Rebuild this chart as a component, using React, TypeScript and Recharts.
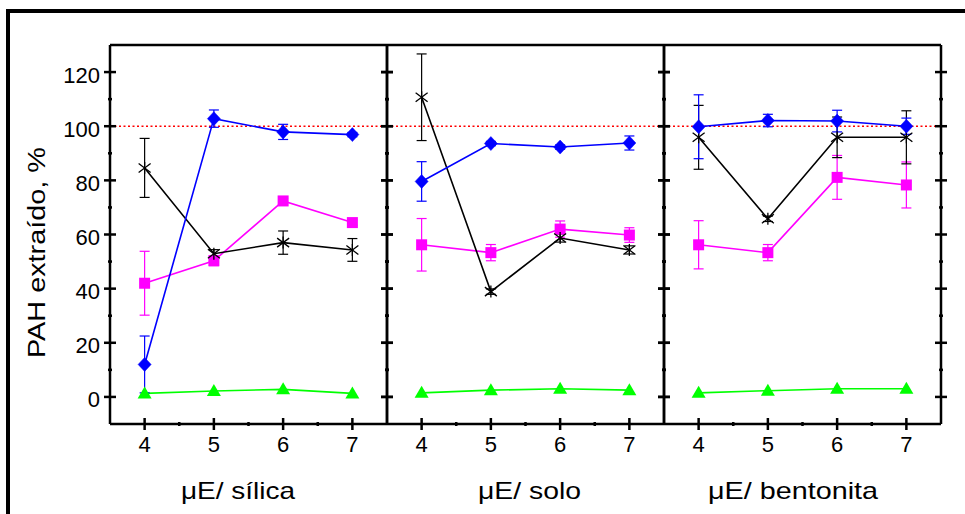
import React from 'react';
import { LineChart, Line, XAxis, YAxis, ErrorBar, ReferenceLine, Label } from 'recharts';

const xValues = [4, 5, 6, 7];
const xTicks = [4, 4.5, 5, 5.5, 6, 6.5, 7];
const yTicks = [0, 10, 20, 30, 40, 50, 60, 70, 80, 90, 100, 110, 120];

// panel 1 - sílica
const silicaDiamond = [12, 102.8, 97.9, 96.9];
const silicaDiamondErr = [10.5, 3.2, 2.8, 0.8];
const silicaSquare = [42, 50.3, 72.4, 64.4];
const silicaSquareErr = [11.8, 1.8, 1, 1];
const silicaStar = [84.6, 52.9, 57, 54.3];
const silicaStarErr = [10.9, 1.5, 4.3, 4.2];
const silicaTriangle = [1.3, 2.2, 2.8, 1.3];

// panel 2 - solo
const soloDiamond = [79.6, 93.6, 92.3, 93.8];
const soloDiamondErr = [7.3, 0.8, 0.8, 2.6];
const soloSquare = [56.2, 53.3, 62, 59.8];
const soloSquareErr = [9.7, 3, 3, 2.7];
const soloStar = [110.7, 38.9, 58.7, 54.3];
const soloStarErr = [16, 1, 1.5, 1.5];
const soloTriangle = [1.5, 2.5, 3, 2.5];

// panel 3 - bentonita
const bentDiamond = [99.8, 102.1, 101.9, 100];
const bentDiamondErr = [11.8, 2.3, 4, 3];
const bentSquare = [56.2, 53.3, 81.1, 78.3];
const bentSquareErr = [8.9, 3, 8.1, 8.5];
const bentStar = [95.9, 65.8, 95.9, 95.9];
const bentStarErr = [11.8, 1, 7.5, 9.8];
const bentTriangle = [1.5, 2.3, 3, 3];

const font = '"Liberation Sans", Arial, Helvetica, sans-serif';
const BLUE = '#0000FF';
const MAGENTA = '#FF00FF';
const GREEN = '#00FF00';

const buildRows = (d: number[], de: number[], s: number[], se: number[], st: number[], ste: number[], t: number[]) =>
  xValues.map((x, i) => ({
    x,
    diamond: d[i],
    diamondErr: de[i],
    square: s[i],
    squareErr: se[i],
    star: st[i],
    starErr: ste[i],
    triangle: t[i],
  }));

const panels = [
  {
    title: 'μE/ sílica',
    titleCenter: 128,
    titleLen: 114,
    rows: buildRows(silicaDiamond, silicaDiamondErr, silicaSquare, silicaSquareErr, silicaStar, silicaStarErr, silicaTriangle),
  },
  {
    title: 'μE/ solo',
    titleCenter: 142.5,
    titleLen: 103,
    rows: buildRows(soloDiamond, soloDiamondErr, soloSquare, soloSquareErr, soloStar, soloStarErr, soloTriangle),
  },
  {
    title: 'μE/ bentonita',
    titleCenter: 129,
    titleLen: 170,
    rows: buildRows(bentDiamond, bentDiamondErr, bentSquare, bentSquareErr, bentStar, bentStarErr, bentTriangle),
  },
];

const diamondDot = (p: any) => (
  <path
    key={`d-${p.index}`}
    d={`M${p.cx},${p.cy - 7}L${p.cx + 6.5},${p.cy}L${p.cx},${p.cy + 7}L${p.cx - 6.5},${p.cy}Z`}
    fill={BLUE}
    stroke={BLUE}
    strokeWidth={0.5}
  />
);

const squareDot = (p: any) => (
  <rect key={`s-${p.index}`} x={p.cx - 5.5} y={p.cy - 5.5} width={11} height={11} fill={MAGENTA} />
);

const triangleDot = (p: any) => (
  <path
    key={`t-${p.index}`}
    d={`M${p.cx},${p.cy - 7}L${p.cx + 7},${p.cy + 5}L${p.cx - 7},${p.cy + 5}Z`}
    fill={GREEN}
  />
);

const starDot = (p: any) => (
  <g key={`a-${p.index}`} stroke="#000" strokeWidth={1.3}>
    <line x1={p.cx} y1={p.cy - 6} x2={p.cx} y2={p.cy + 6} />
    <line x1={p.cx - 6} y1={p.cy - 4.5} x2={p.cx + 6} y2={p.cy + 4.5} />
    <line x1={p.cx - 6} y1={p.cy + 4.5} x2={p.cx + 6} y2={p.cy - 4.5} />
  </g>
);

const makeYTick = (showLabel: boolean) => (props: any) => {
  const { x, y, payload } = props;
  const major = payload.value % 20 === 0;
  const len = major ? 6 : 2;
  return (
    <g>
      <line x1={x - len} x2={x + len} y1={y} y2={y} stroke="#000" strokeWidth={2.5} />
      {showLabel && major && (
        <text x={x - 10} y={y + 10.5} textAnchor="end" fontSize={22} fontFamily={font} fill="#000">
          {payload.value}
        </text>
      )}
    </g>
  );
};

const makeXTick = (showLabel: boolean) => (props: any) => {
  const { x, y, payload } = props;
  const major = Number.isInteger(payload.value);
  const len = major ? 6 : 2;
  return (
    <g>
      <line x1={x} x2={x} y1={y - len} y2={y + len} stroke="#000" strokeWidth={2.5} />
      {showLabel && major && (
        <text x={x} y={y + 28} textAnchor="middle" fontSize={22} fontFamily={font} fill="#000">
          {payload.value}
        </text>
      )}
    </g>
  );
};

const axisLine = { stroke: '#000', strokeWidth: 2.5 };

function Panel({ index, left }: { index: number; left: number }) {
  const panel = panels[index];
  const first = index === 0;
  const width = first ? 397 : 297;
  return (
    <div style={{ position: 'absolute', left, top: 0 }}>
      <LineChart
        width={width}
        height={514}
        data={panel.rows}
        margin={{ top: 40, right: 0, bottom: 10, left: first ? 10 : 0 }}
      >
        <XAxis
          dataKey="x"
          type="number"
          domain={[3.5, 7.5]}
          ticks={xTicks}
          interval={0}
          height={80}
          tickSize={0}
          tickMargin={0}
          tickLine={false}
          axisLine={axisLine}
          tick={makeXTick(true)}
          allowDataOverflow
        >
          <Label
            content={(p: any) => {
              const vb = p.viewBox;
              const start = vb.x + panel.titleCenter - panel.titleLen / 2;
              return (
                <text
                  x={start}
                  y={vb.y + 75}
                  fontSize={24}
                  fontFamily={font}
                  fill="#000"
                  textLength={panel.titleLen}
                  lengthAdjust="spacingAndGlyphs"
                >
                  {panel.title}
                </text>
              );
            }}
          />
        </XAxis>
        <XAxis
          xAxisId="top"
          orientation="top"
          type="number"
          domain={[3.5, 7.5]}
          ticks={xTicks}
          interval={0}
          height={5}
          tickSize={0}
          tickMargin={0}
          tickLine={false}
          axisLine={axisLine}
          tick={makeXTick(false)}
          allowDataOverflow
        />
        <YAxis
          type="number"
          domain={[-10, 130]}
          ticks={yTicks}
          interval={0}
          width={first ? 100 : 10}
          tickSize={0}
          tickMargin={0}
          tickLine={false}
          axisLine={axisLine}
          tick={makeYTick(first)}
          allowDataOverflow
        >
          {first && (
            <Label
              content={(p: any) => {
                const vb = p.viewBox;
                const cx = vb.x + 27;
                const cy = vb.y + vb.height / 2 + 18;
                const len = 211;
                return (
                  <text
                    x={cx - len / 2}
                    y={cy + 8}
                    transform={`rotate(-90 ${cx} ${cy})`}
                    fontSize={23}
                    fontFamily={font}
                    fill="#000"
                    textLength={len}
                    lengthAdjust="spacingAndGlyphs"
                  >
                    PAH extraído, %
                  </text>
                );
              }}
            />
          )}
        </YAxis>
        <YAxis
          yAxisId="right"
          orientation="right"
          type="number"
          domain={[-10, 130]}
          ticks={yTicks}
          interval={0}
          width={10}
          tickSize={0}
          tickMargin={0}
          tickLine={false}
          axisLine={axisLine}
          tick={makeYTick(false)}
          allowDataOverflow
        />
        <ReferenceLine y={100} stroke="#FF0000" strokeWidth={1.5} strokeDasharray="2 2.5" />
        <Line dataKey="triangle" stroke={GREEN} strokeWidth={1.6} dot={triangleDot} isAnimationActive={false} />
        <Line dataKey="square" stroke={MAGENTA} strokeWidth={1.6} dot={squareDot} isAnimationActive={false}>
          <ErrorBar dataKey="squareErr" width={5} stroke={MAGENTA} strokeWidth={1.2} direction="y" isAnimationActive={false} />
        </Line>
        <Line dataKey="star" stroke="#000" strokeWidth={1.6} dot={starDot} isAnimationActive={false}>
          <ErrorBar dataKey="starErr" width={5} stroke="#000" strokeWidth={1.2} direction="y" isAnimationActive={false} />
        </Line>
        <Line dataKey="diamond" stroke={BLUE} strokeWidth={1.6} dot={diamondDot} isAnimationActive={false}>
          <ErrorBar dataKey="diamondErr" width={5} stroke={BLUE} strokeWidth={1.2} direction="y" isAnimationActive={false} />
        </Line>
      </LineChart>
    </div>
  );
}

export default function App() {
  return (
    <div
      style={{
        position: 'absolute',
        left: 0,
        top: 0,
        width: 965,
        height: 514,
        overflow: 'hidden',
        background: '#fff',
      }}
    >
      <div
        style={{
          position: 'absolute',
          left: 6,
          top: 9,
          width: 1000,
          height: 1000,
          border: '4px solid #000',
        }}
      />
      <Panel index={0} left={0} />
      <Panel index={1} left={377} />
      <Panel index={2} left={654} />
    </div>
  );
}
